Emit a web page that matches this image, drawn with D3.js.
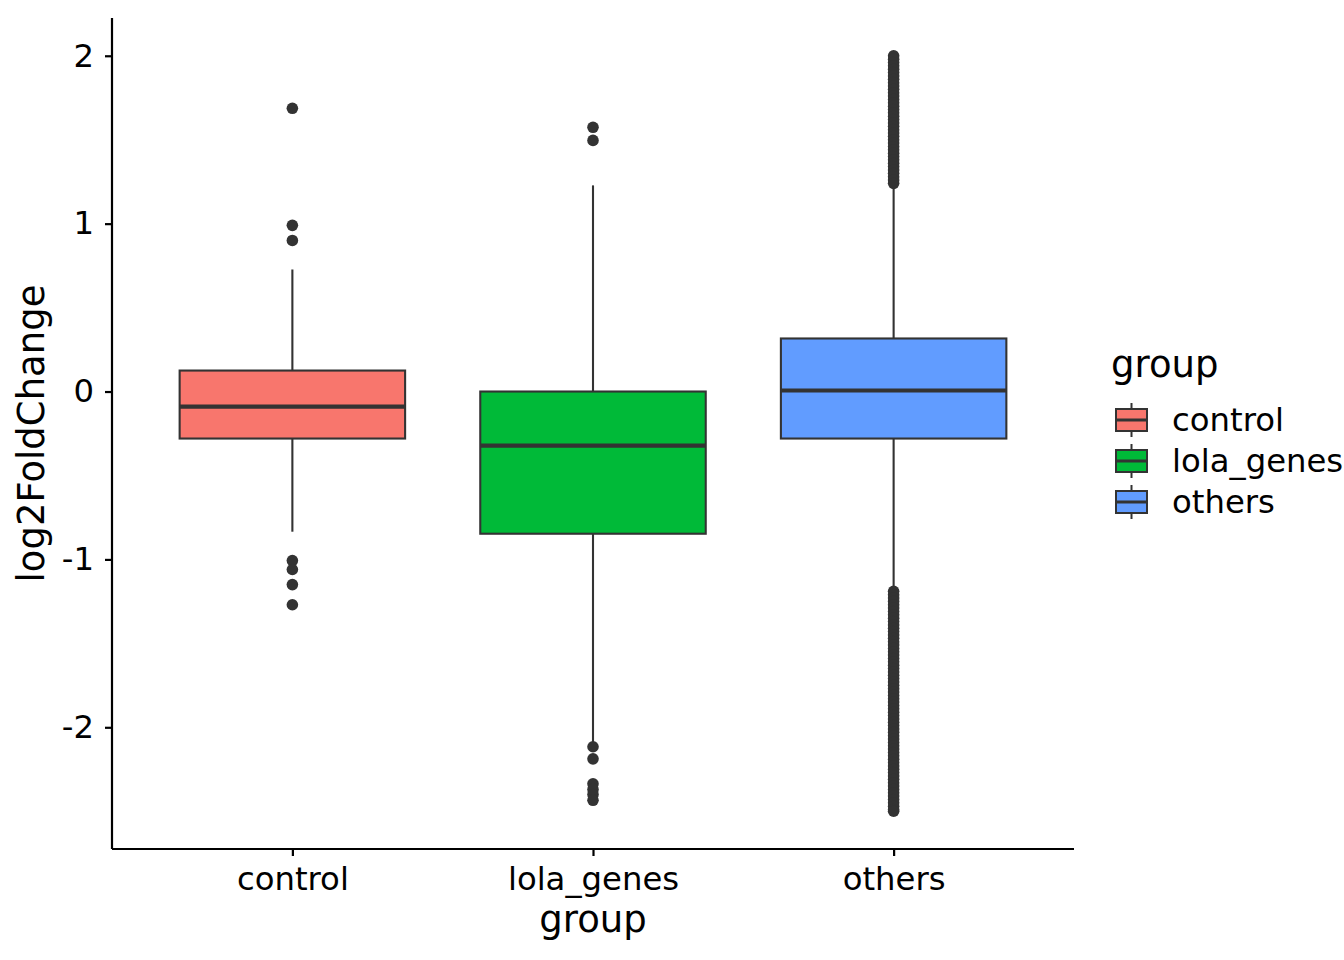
<!DOCTYPE html>
<html><head><meta charset="utf-8">
<script src="https://cdn.jsdelivr.net/npm/d3@7"></script>
<style>body{margin:0;background:#fff}svg{display:block}text{font-family:"DejaVu Sans",sans-serif}</style>
</head><body>
<svg id="c" width="1344" height="960"></svg>
<script>
const categories = ["control", "lola_genes", "others"];
const colors = ["#F8766D", "#00BA38", "#619CFF"];
// box stats: q1, median, q3, lower whisker, upper whisker
const q1 = [-0.28, -0.847, -0.28];
const medians = [-0.09, -0.322, 0.006];
const q3 = [0.125, 0.0, 0.316];
const whiskLo = [-0.835, -2.10, -1.18];
const whiskHi = [0.727, 1.228, 1.234];
const outControl = [1.687, 0.99, 0.9, -1.007, -1.06, -1.15, -1.27];
const outLola = [1.574, 1.496, -2.116, -2.188, -2.337, -2.37, -2.40, -2.435];
const outOthers = [
  2.0, 1.98, 1.96, 1.94, 1.92, 1.90, 1.88, 1.86, 1.84, 1.82, 1.80, 1.78, 1.76, 1.74, 1.72, 1.70,
  1.68, 1.66, 1.64, 1.62, 1.60, 1.58, 1.56, 1.54, 1.52, 1.50, 1.48, 1.46, 1.44, 1.42, 1.40,
  1.38, 1.36, 1.34, 1.32, 1.30, 1.28, 1.26, 1.24,
  -1.19, -1.21, -1.23, -1.25, -1.27, -1.29, -1.31, -1.33, -1.35, -1.37, -1.39, -1.41, -1.43,
  -1.45, -1.47, -1.49, -1.51, -1.53, -1.55, -1.57, -1.59, -1.61, -1.63, -1.65, -1.67, -1.69,
  -1.71, -1.73, -1.75, -1.77, -1.79, -1.81, -1.83, -1.85, -1.87, -1.89, -1.91, -1.93, -1.95,
  -1.97, -1.99, -2.01, -2.03, -2.05, -2.07, -2.09, -2.11, -2.13, -2.15, -2.17, -2.19, -2.21,
  -2.23, -2.25, -2.27, -2.29, -2.31, -2.33, -2.35, -2.37, -2.39, -2.41, -2.43, -2.45, -2.47, -2.49, -2.5
];
const outliers = [outControl, outLola, outOthers];
const yTicks = [-2, -1, 0, 1, 2];
const xTitle = "group", yTitle = "log2FoldChange", legendTitle = "group";

const svg = d3.select("#c");
const L = 112, R = 1074, T = 18, B = 849;
const y = d3.scaleLinear().domain([-2.725, 2.225]).range([B, T]);
const x = d3.scaleLinear().domain([0.4, 3.6]).range([L, R]);
const line = "#333333";
const bw = 0.75;
const tickFont = 32.3, titleFont = 37;

const g = svg.append("g");
categories.forEach((c, i) => {
  const cx = x(i + 1), x0 = x(i + 1 - bw / 2), x1 = x(i + 1 + bw / 2);
  g.append("line").attr("x1", cx).attr("x2", cx).attr("y1", y(q3[i])).attr("y2", y(whiskHi[i]))
    .attr("stroke", line).attr("stroke-width", 2.1);
  g.append("line").attr("x1", cx).attr("x2", cx).attr("y1", y(q1[i])).attr("y2", y(whiskLo[i]))
    .attr("stroke", line).attr("stroke-width", 2.1);
  g.append("rect").attr("x", x0).attr("width", x1 - x0).attr("y", y(q3[i])).attr("height", y(q1[i]) - y(q3[i]))
    .attr("fill", colors[i]).attr("stroke", line).attr("stroke-width", 2.1);
  g.append("line").attr("x1", x0).attr("x2", x1).attr("y1", y(medians[i])).attr("y2", y(medians[i]))
    .attr("stroke", line).attr("stroke-width", 4.2);
  g.selectAll(null).data(outliers[i]).enter().append("circle")
    .attr("cx", cx).attr("cy", d => y(d)).attr("r", 5.8).attr("fill", line);
});

// axes
const ya = svg.append("g").attr("transform", `translate(${L},0)`)
  .call(d3.axisLeft(y).tickValues(yTicks).tickSize(7).tickPadding(11).tickFormat(d3.format("d")));
const xa = svg.append("g").attr("transform", `translate(0,${B})`)
  .call(d3.axisBottom(x).tickValues([1, 2, 3]).tickSize(7).tickPadding(11).tickFormat(d => categories[d - 1]));
[ya, xa].forEach(a => {
  a.attr("font-size", tickFont).attr("font-family", "DejaVu Sans");
  a.select(".domain").attr("stroke", "#000").attr("stroke-width", 2.2);
  a.selectAll(".tick line").attr("stroke", "#000").attr("stroke-width", 2.2);
  a.selectAll(".tick text").attr("fill", "#000").attr("font-size", tickFont).attr("font-family", "DejaVu Sans");
});
ya.select(".domain").attr("d", `M0,${T}V${B}`);
xa.select(".domain").attr("d", `M${L},0H${R}`);
ya.selectAll(".tick text").text(d => d < 0 ? "-" + Math.abs(d) : d);

svg.append("text").attr("x", (L + R) / 2).attr("y", 932).attr("text-anchor", "middle")
  .attr("font-size", titleFont).text(xTitle);
svg.append("text").attr("transform", `translate(44,${(T + B) / 2}) rotate(-90)`).attr("text-anchor", "middle")
  .attr("font-size", titleFont).text(yTitle);

// legend
const lg = svg.append("g");
lg.append("text").attr("x", 1111).attr("y", 377).attr("font-size", titleFont).text(legendTitle);
categories.forEach((c, i) => {
  const cy = 420 + i * 41;
  const k = lg.append("g");
  k.append("line").attr("x1", 1131.5).attr("x2", 1131.5).attr("y1", cy - 17).attr("y2", cy + 17)
    .attr("stroke", line).attr("stroke-width", 2);
  k.append("rect").attr("x", 1116).attr("y", cy - 11).attr("width", 31).attr("height", 22)
    .attr("fill", colors[i]).attr("stroke", line).attr("stroke-width", 2);
  k.append("line").attr("x1", 1116).attr("x2", 1147).attr("y1", cy).attr("y2", cy)
    .attr("stroke", line).attr("stroke-width", 3);
  lg.append("text").attr("x", 1172).attr("y", cy + 10.5).attr("font-size", tickFont).text(c);
});
</script>
</body></html>
